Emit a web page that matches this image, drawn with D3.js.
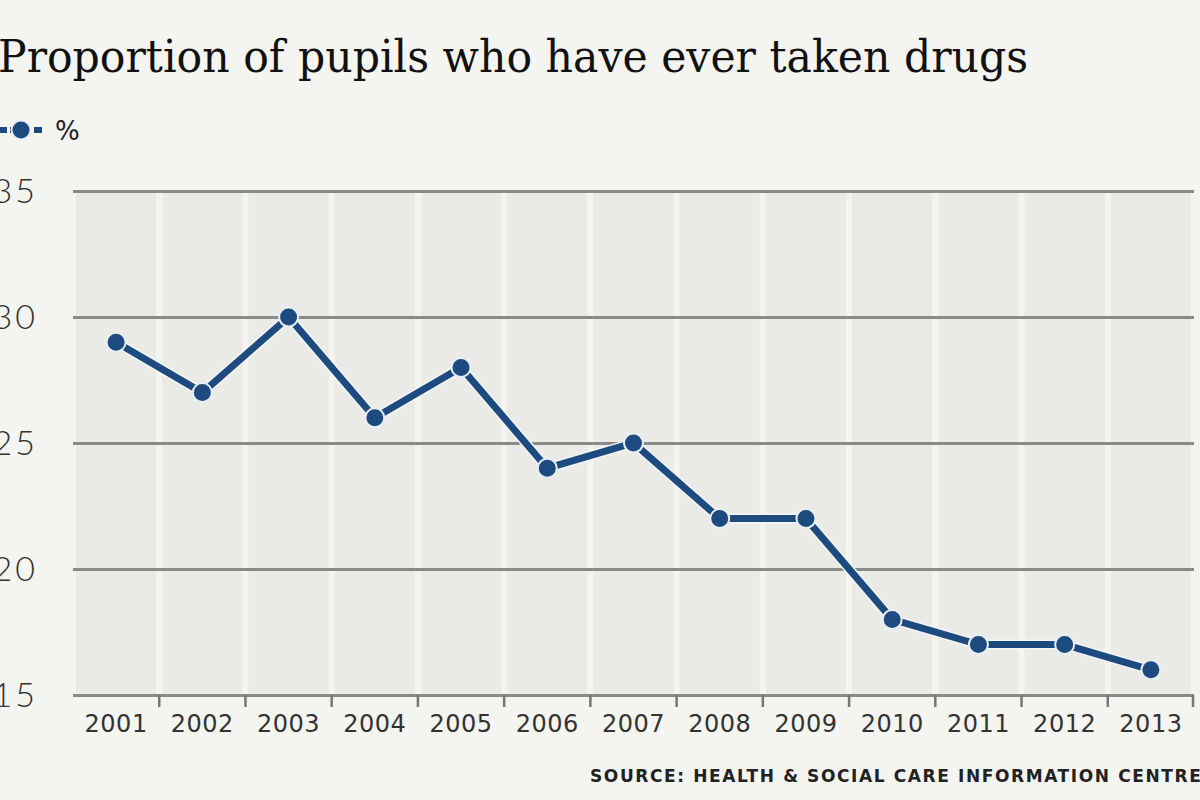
<!DOCTYPE html>
<html><head><meta charset="utf-8">
<script src="https://cdn.jsdelivr.net/npm/d3@7"></script>
<style>html,body{margin:0;padding:0;background:#f4f4f0;overflow:hidden}</style>
</head><body>
<svg id="c" width="1200" height="800"></svg>
<script>
const years = ["2001","2002","2003","2004","2005","2006","2007","2008","2009","2010","2011","2012","2013"];
const values = [29,27,30,26,28,24,25,22,22,18,17,17,16];
const yTicks = [15,20,25,30,35];
const title = "Proportion of pupils who have ever taken drugs";
const legendLabel = "%";
const source = "SOURCE: HEALTH & SOCIAL CARE INFORMATION CENTRE";

const svg = d3.select("#c");
svg.append("rect").attr("width",1200).attr("height",800).attr("fill","#f4f4f0");

const x = d3.scaleBand().domain(years).range([73,1194]).padding(0);
const y = d3.scaleLinear().domain([15,35]).range([695,191]);

// bands
svg.append("g").selectAll("rect").data(years).join("rect")
  .attr("x", d => x(d)+3).attr("width", x.bandwidth()-6)
  .attr("y", y(35)).attr("height", y(15)-y(35))
  .attr("fill","#eaeae6");

// grid lines
const yAxis = d3.axisLeft(y).tickValues(yTicks).tickSize(0).tickPadding(0).tickFormat(d3.format("d"));
const gy = svg.append("g").call(yAxis);
gy.select(".domain").remove();
gy.selectAll(".tick line").remove();
gy.selectAll(".tick").append("line")
  .attr("x1",73).attr("x2",1194).attr("stroke","#8a8a88").attr("stroke-width",3);
gy.selectAll(".tick text").attr("x",38).attr("dy","0.35em")
  .attr("font-family","Lato, 'DejaVu Sans', sans-serif").attr("font-weight",300)
  .attr("font-size",34).attr("fill","#333").attr("letter-spacing",3).attr("text-anchor","end");

// x axis
const xAxis = d3.axisBottom(x).tickSize(0).tickPadding(0);
const gx = svg.append("g").attr("transform",`translate(0,${y(15)})`).call(xAxis);
gx.select(".domain").remove();
gx.selectAll(".tick line").remove();
gx.selectAll(".tick text").attr("y",20)
  .attr("font-family","'DejaVu Sans', sans-serif").attr("font-size",24)
  .attr("fill","#333").attr("letter-spacing",0.5);
svg.append("g").selectAll("line").data(years.slice(1).concat(["end"])).join("line")
  .attr("x1", d => d==="end" ? 1193 : x(d)).attr("x2", d => d==="end" ? 1193 : x(d))
  .attr("y1", y(15)).attr("y2", y(15)+12)
  .attr("stroke","#777").attr("stroke-width",2.5);

// line
const line = d3.line().x((d,i)=>x(years[i])+x.bandwidth()/2).y(d=>y(d));
svg.append("path").datum(values).attr("d",line).attr("fill","none")
  .attr("stroke","#f4f6f8").attr("stroke-width",10).attr("stroke-linejoin","round");
svg.append("path").datum(values).attr("d",line).attr("fill","none")
  .attr("stroke","#1d4b7f").attr("stroke-width",7).attr("stroke-linejoin","miter");
svg.append("g").selectAll("circle").data(values).join("circle")
  .attr("cx",(d,i)=>x(years[i])+x.bandwidth()/2).attr("cy",d=>y(d)).attr("r",9.5)
  .attr("fill","#1d4b7f").attr("stroke","#e8eef5").attr("stroke-width",2);

// title
svg.append("text").attr("x",-2).attr("y",72).text(title)
  .attr("font-family","'DejaVu Serif', serif").attr("font-size",44)
  .attr("fill","#111").attr("textLength",1030).attr("lengthAdjust","spacingAndGlyphs");

// legend
svg.append("line").attr("x1",-2).attr("x2",42).attr("y1",130).attr("y2",130)
  .attr("stroke","#1d4b7f").attr("stroke-width",6).attr("stroke-dasharray","9,3");
svg.append("circle").attr("cx",21).attr("cy",130).attr("r",9.5).attr("fill","#1d4b7f")
  .attr("stroke","#e8eef5").attr("stroke-width",2);
svg.append("text").attr("x",55).attr("y",140).text(legendLabel)
  .attr("font-family","'DejaVu Sans', sans-serif").attr("font-size",26).attr("fill","#222");

// source
svg.append("text").attr("x",590).attr("y",782).text(source)
  .attr("font-family","'DejaVu Sans', sans-serif").attr("font-weight","bold").attr("font-size",17)
  .attr("fill","#222").attr("letter-spacing",1.6);
</script>
</body></html>
